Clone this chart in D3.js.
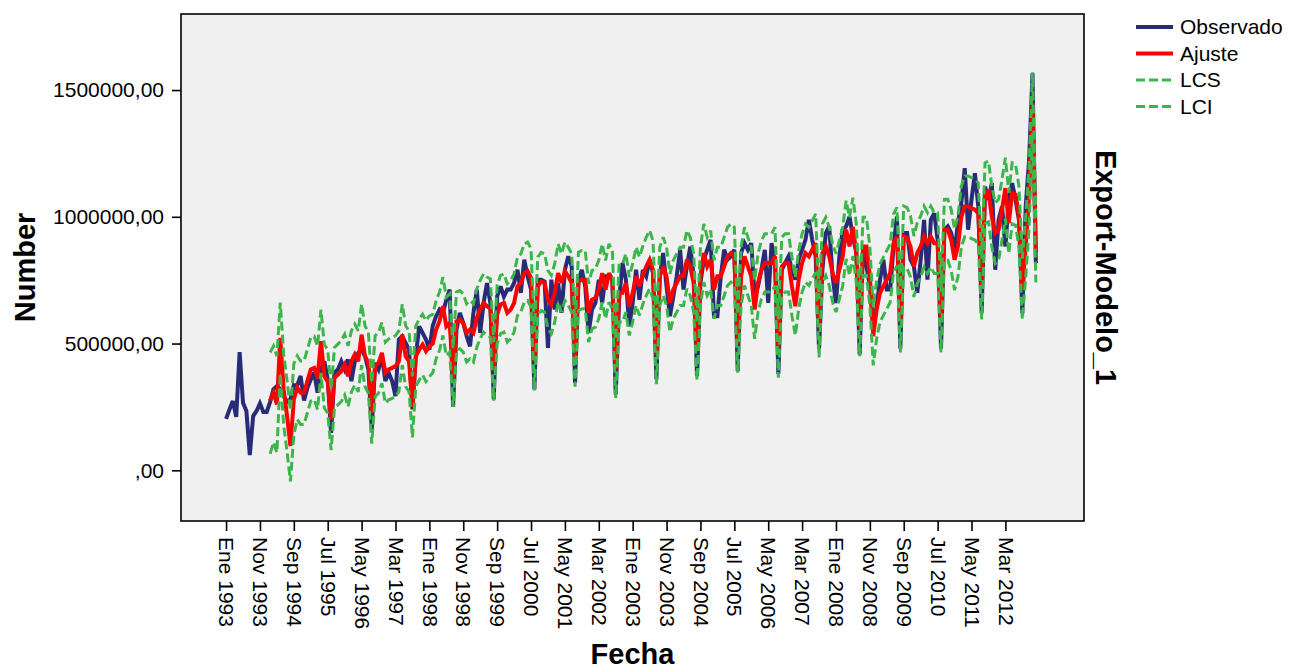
<!DOCTYPE html>
<html>
<head>
<meta charset="utf-8">
<script src="https://cdn.jsdelivr.net/npm/d3@7"></script>
<style>
  html, body { margin: 0; padding: 0; background: #ffffff; }
  svg { display: block; font-family: "Liberation Sans", Arial, sans-serif; }
</style>
</head>
<body>
<svg id="chart" width="1301" height="672"></svg>
<script>
// Monthly exports, Jan 1993 – Dec 2012 (values in thousands)
const observado = [
  203,240,273,211,466,266,234,60,214,234,264,230,
  230,270,320,332,320,293,270,280,336,335,372,275,
  325,358,385,306,400,430,360,148,385,398,430,398,
  437,352,430,463,476,450,398,161,424,398,450,352,
  385,352,293,516,529,503,476,240,450,568,542,516,
  476,570,608,634,621,673,713,250,555,621,581,529,
  489,621,713,542,660,739,660,280,686,726,686,713,
  713,739,791,700,831,765,713,319,752,752,745,483,
  752,634,739,621,791,844,804,345,752,791,726,542,
  634,660,752,660,765,765,752,299,673,818,752,568,
  660,791,673,790,765,831,778,358,765,857,726,608,
  686,765,870,713,804,883,765,371,739,831,870,909,
  608,608,765,870,831,844,870,391,857,896,870,896,
  686,726,791,870,660,896,818,380,791,818,844,791,
  752,831,870,909,988,909,844,480,791,936,962,765,
  660,844,949,962,1001,920,860,457,883,804,726,568,
  647,752,831,713,713,883,1001,480,936,936,831,804,
  700,831,988,752,988,1014,909,480,949,962,936,865,
  975,1054,1192,949,1067,1172,1041,621,1119,1067,1133,791,
  988,1041,883,1067,1133,1067,988,621,1041,1224,1566,818
];

// Model fit (Ajuste), defined from Feb 1994 onwards
const ajuste = [
  null,null,null,null,null,null,null,null,null,null,null,null,
  null,275,306,260,522,319,214,96,280,326,306,306,
  352,398,404,365,509,371,350,200,365,378,391,417,
  371,430,457,430,535,450,424,225,411,424,463,385,
  398,404,411,430,535,450,430,250,450,476,496,470,
  489,500,555,588,647,568,581,365,588,594,581,542,
  555,542,601,634,660,647,640,390,614,654,660,621,
  634,660,726,739,778,785,759,430,726,745,739,673,
  654,700,778,739,785,765,739,445,745,752,752,621,
  673,680,713,778,713,778,752,400,700,700,739,647,
  700,765,726,770,804,831,791,455,765,804,765,660,
  713,739,765,765,831,804,739,470,765,857,804,830,
  713,765,765,804,844,857,844,500,765,844,804,765,
  634,739,791,818,818,818,844,480,804,818,818,726,
  647,752,818,857,844,870,896,560,857,883,844,778,
  739,791,844,949,883,960,857,565,883,883,765,529,
  634,700,726,752,778,896,922,580,922,916,883,804,
  857,883,922,896,922,896,896,585,949,949,909,831,
  883,1001,1041,1041,1034,1028,1014,715,1093,1100,1001,936,
  949,1028,1113,975,1093,1087,1001,715,883,1080,1450,861
];

// Upper confidence limit (LCS)
const lcs = [
  null,null,null,null,null,null,null,null,null,null,null,null,
  null,465,490,450,662,459,354,236,420,451,431,431,
  477,523,529,490,634,496,475,320,485,498,511,537,
  491,550,577,550,655,570,544,345,531,544,583,505,
  518,524,531,550,655,570,550,370,570,596,616,590,
  609,615,670,703,762,683,696,480,703,709,696,657,
  670,657,716,749,775,762,755,505,729,769,775,736,
  749,775,841,854,893,900,874,545,841,860,854,788,
  769,815,893,854,900,880,854,560,860,867,867,736,
  788,795,828,893,828,893,867,515,815,815,854,762,
  815,880,841,885,919,946,906,570,880,919,880,775,
  828,854,880,880,946,919,854,585,880,972,919,945,
  828,880,880,919,959,972,959,615,880,959,919,880,
  749,854,906,933,933,933,959,595,919,933,933,841,
  762,867,933,972,959,985,1011,675,972,998,959,893,
  854,906,959,1064,998,1075,972,680,998,998,880,644,
  749,815,841,867,893,1011,1037,695,1042,1036,1003,924,
  977,1003,1042,1016,1042,1016,1016,705,1069,1069,1029,951,
  1003,1121,1161,1161,1154,1148,1134,835,1213,1220,1121,1056,
  1069,1148,1233,1095,1213,1207,1121,835,1003,1200,1570,981
];

// Lower confidence limit (LCI)
const lci = [
  null,null,null,null,null,null,null,null,null,null,null,null,
  null,65,110,70,382,179,74,-44,140,201,181,181,
  227,273,279,240,384,246,225,80,245,258,271,297,
  251,310,337,310,415,330,304,105,291,304,343,265,
  278,284,291,310,415,330,310,130,330,356,376,350,
  369,385,440,473,532,453,466,250,473,479,466,427,
  440,427,486,519,545,532,525,275,499,539,545,506,
  519,545,611,624,663,670,644,315,611,630,624,558,
  539,585,663,624,670,650,624,330,630,637,637,506,
  558,565,598,663,598,663,637,285,585,585,624,532,
  585,650,611,655,689,716,676,340,650,689,650,545,
  598,624,650,650,716,689,624,355,650,742,689,715,
  598,650,650,689,729,742,729,385,650,729,689,650,
  519,624,676,703,703,703,729,365,689,703,703,611,
  532,637,703,742,729,755,781,445,742,768,729,663,
  624,676,729,834,768,845,742,450,768,768,650,414,
  519,585,611,637,663,781,807,465,802,796,763,684,
  737,763,802,776,802,776,776,465,829,829,789,711,
  763,881,921,921,914,908,894,595,973,980,881,816,
  829,908,993,855,973,967,881,595,763,960,1330,741
];

// Date axis labels, one every ten months starting at Jan 1993
const tickLabels = [
  "Ene 1993","Nov 1993","Sep 1994","Jul 1995","May 1996","Mar 1997",
  "Ene 1998","Nov 1998","Sep 1999","Jul 2000","May 2001","Mar 2002",
  "Ene 2003","Nov 2003","Sep 2004","Jul 2005","May 2006","Mar 2007",
  "Ene 2008","Nov 2008","Sep 2009","Jul 2010","May 2011","Mar 2012"
];
const yTicks = [0, 500000, 1000000, 1500000];

const seriesDefs = [
  { name: "Observado", values: observado, color: "#282B75", width: 4, dash: null },
  { name: "Ajuste",    values: ajuste,    color: "#FF0000", width: 4, dash: null },
  { name: "LCS",       values: lcs,       color: "#3CB64B", width: 3, dash: "9,4" },
  { name: "LCI",       values: lci,       color: "#3CB64B", width: 3, dash: "9,4" }
];

const svg = d3.select("#chart");
const plot = { left: 181, top: 14, right: 1084, bottom: 521 };
const font = "'Liberation Sans', Arial, sans-serif";

const x = d3.scaleLinear().domain([-13.3, 253.2]).range([plot.left, plot.right]);
const y = d3.scaleLinear().domain([-200000, 1800000]).range([plot.bottom, plot.top]);

// plot background
svg.append("rect")
  .attr("x", plot.left).attr("y", plot.top)
  .attr("width", plot.right - plot.left).attr("height", plot.bottom - plot.top)
  .attr("fill", "#F0F0F0");

// series
const lineGen = d3.line()
  .defined(d => d != null)
  .x((d, i) => x(i))
  .y(d => y(d * 1000));

const g = svg.append("g");
seriesDefs.forEach(s => {
  g.append("path")
    .datum(s.values)
    .attr("d", lineGen)
    .attr("fill", "none")
    .attr("stroke", s.color)
    .attr("stroke-width", s.width)
    .attr("stroke-dasharray", s.dash)
    .attr("stroke-linejoin", "miter")
    .attr("stroke-miterlimit", 3);
});

// frame
svg.append("rect")
  .attr("x", plot.left).attr("y", plot.top)
  .attr("width", plot.right - plot.left).attr("height", plot.bottom - plot.top)
  .attr("fill", "none").attr("stroke", "#000").attr("stroke-width", 1.6);

// x axis
const xAxis = d3.axisBottom(x)
  .tickValues(d3.range(0, 231, 10))
  .tickFormat((d, i) => tickLabels[i])
  .tickSize(10)
  .tickSizeOuter(0);
const gx = svg.append("g").attr("transform", `translate(0,${plot.bottom})`).call(xAxis);
gx.select(".domain").remove();
gx.selectAll(".tick line").attr("stroke", "#000").attr("stroke-width", 1.6);
gx.selectAll(".tick text")
  .attr("font-family", font).attr("font-size", 21).attr("fill", "#000")
  .attr("text-anchor", "start")
  .attr("transform", "rotate(90)")
  .attr("x", 16).attr("y", 0).attr("dy", "0.35em");

// y axis
const yAxis = d3.axisLeft(y)
  .tickValues(yTicks)
  .tickFormat(v => v === 0 ? ",00" : v + ",00")
  .tickSize(9)
  .tickSizeOuter(0)
  .tickPadding(8);
const gy = svg.append("g").attr("transform", `translate(${plot.left},0)`).call(yAxis);
gy.select(".domain").remove();
gy.selectAll(".tick line").attr("stroke", "#000").attr("stroke-width", 1.6);
gy.selectAll(".tick text")
  .attr("font-family", font).attr("font-size", 21).attr("fill", "#000");

// axis titles
svg.append("text")
  .attr("transform", `translate(35,${(plot.top + plot.bottom) / 2}) rotate(-90)`)
  .attr("text-anchor", "middle")
  .attr("font-family", font).attr("font-size", 29).attr("font-weight", "bold")
  .text("Number");

svg.append("text")
  .attr("x", (plot.left + plot.right) / 2).attr("y", 664)
  .attr("text-anchor", "middle")
  .attr("font-family", font).attr("font-size", 29).attr("font-weight", "bold")
  .text("Fecha");

svg.append("text")
  .attr("transform", `translate(1096,${(plot.top + plot.bottom) / 2}) rotate(90)`)
  .attr("text-anchor", "middle")
  .attr("font-family", font).attr("font-size", 29).attr("font-weight", "bold")
  .text("Export-Modelo_1");

// legend
const legend = svg.append("g").attr("transform", "translate(1136,27)");
seriesDefs.forEach((s, i) => {
  const row = legend.append("g").attr("transform", `translate(0,${i * 26.5})`);
  row.append("line")
    .attr("x1", 0).attr("x2", 37).attr("y1", 0).attr("y2", 0)
    .attr("stroke", s.color).attr("stroke-width", s.width)
    .attr("stroke-dasharray", s.dash);
  row.append("text")
    .attr("x", 44).attr("y", 0).attr("dy", "0.35em")
    .attr("font-family", font).attr("font-size", 21).attr("fill", "#000")
    .text(s.name);
});
</script>
</body>
</html>
